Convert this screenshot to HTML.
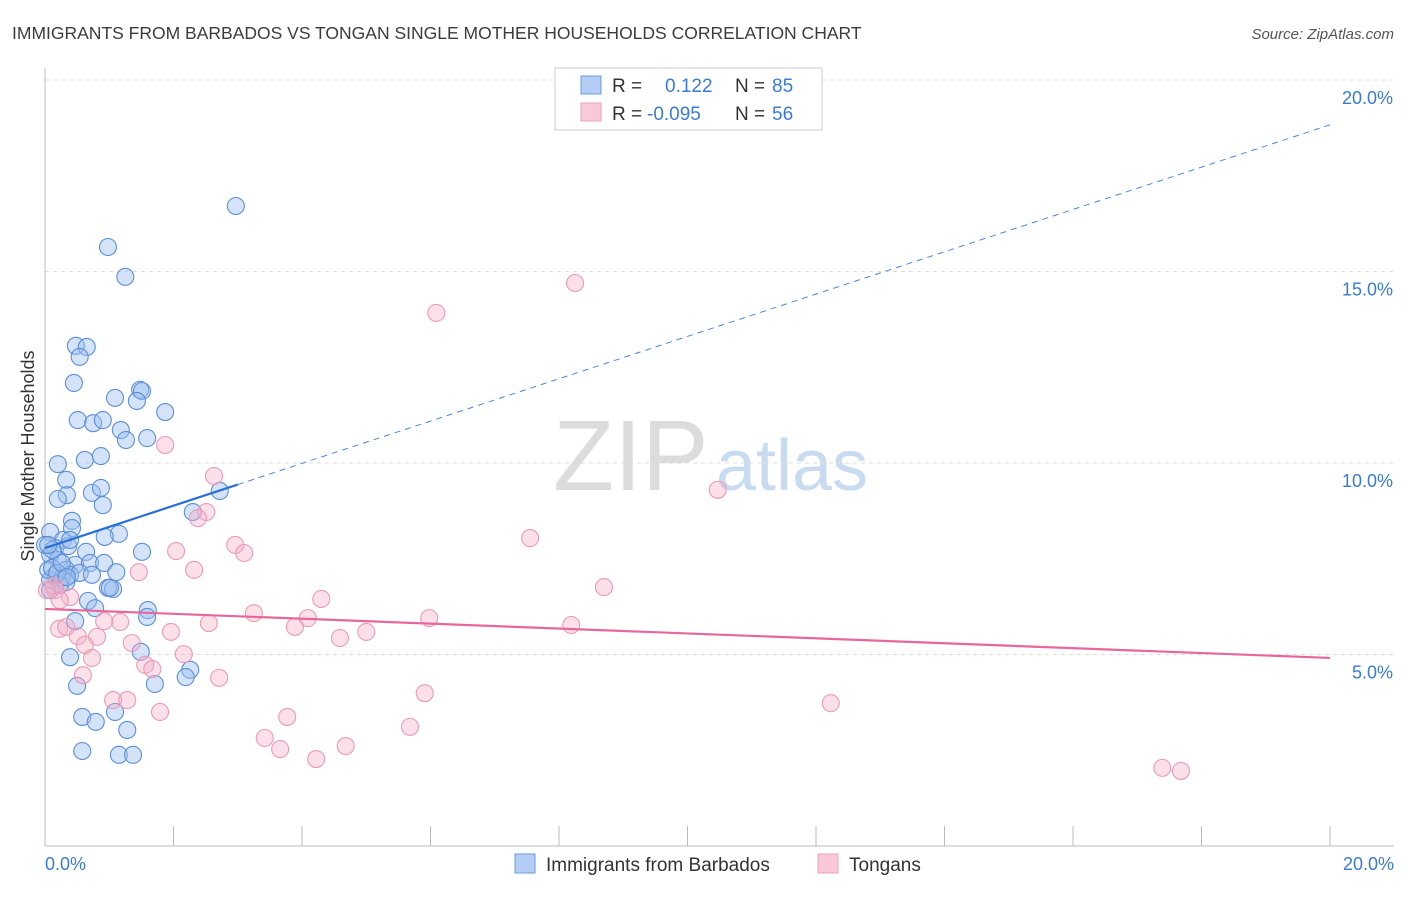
<!DOCTYPE html>
<html><head><meta charset="utf-8"><style>
body{margin:0;background:#fff;font-family:"Liberation Sans",sans-serif}
svg text{font-family:"Liberation Sans",sans-serif}
</style></head><body>
<svg id="chart" width="1406" height="892" xmlns="http://www.w3.org/2000/svg">
<text x="12" y="39" font-size="17.5" fill="#3c3c3c">IMMIGRANTS FROM BARBADOS VS TONGAN SINGLE MOTHER HOUSEHOLDS CORRELATION CHART</text>
<text x="1394" y="39" font-size="15" fill="#555" text-anchor="end" font-style="italic">Source: ZipAtlas.com</text>
<text x="553" y="490" font-size="100" fill="#d4d4d4" font-family="Liberation Serif" opacity="0.8">ZIP</text>
<text x="716" y="490" font-size="72" fill="#bcd3ee" opacity="0.8">atlas</text>
<g id="grid"></g>
<g id="axes"></g>
<g id="pts"></g>
<g id="lines"></g>
<text transform="translate(34,456) rotate(-90)" font-size="18" fill="#333" text-anchor="middle">Single Mother Households</text>
<g>
<rect x="555" y="68" width="267" height="62" fill="#fff" stroke="#ccc"/>
<rect x="581" y="76" width="20" height="18" fill="#b3cdf5" stroke="#6a9be0"/>
<rect x="581" y="103" width="20" height="18" fill="#f9c9d8" stroke="#eea0bb"/>
<text x="612" y="92" font-size="19" fill="#333">R = </text><text x="665" y="92" font-size="19" fill="#3a7bd5">0.122</text>
<text x="735" y="92" font-size="19" fill="#333">N = </text><text x="772" y="92" font-size="19" fill="#3a7bd5">85</text>
<text x="612" y="120" font-size="19" fill="#333">R = </text><text x="647" y="120" font-size="19" fill="#3a7bd5">-0.095</text>
<text x="735" y="120" font-size="19" fill="#333">N = </text><text x="772" y="120" font-size="19" fill="#3a7bd5">56</text>
</g>
<g>
<rect x="515" y="854" width="20" height="19" fill="#b3cdf5" stroke="#6a9be0"/>
<text x="546" y="871" font-size="19" fill="#333">Immigrants from Barbados</text>
<rect x="818" y="854" width="20" height="19" fill="#f9c9d8" stroke="#eea0bb"/>
<text x="849" y="871" font-size="19" fill="#333">Tongans</text>
</g>
</svg>
<script>
const blueX=[2.97,0.98,1.25,0.48,0.65,0.54,0.45,1.48,1.51,1.09,1.43,1.87,0.51,0.75,0.90,1.18,1.26,1.59,0.62,0.87,0.20,0.33,0.34,0.73,0.87,0.20,0.90,2.30,2.72,0.42,0.08,0.42,0.28,1.15,0.93,0.16,0.36,0.64,1.51,0.08,0.20,0.47,0.33,0.70,0.92,1.11,0.16,0.39,0.54,0.08,0.26,0.33,0.98,1.06,0.08,0.67,1.60,0.78,1.59,0.47,0.39,1.49,2.26,2.19,1.71,0.50,0.58,0.79,1.09,1.28,0.58,1.15,1.37,0.05,0.00,0.11,0.23,0.19,0.26,0.12,0.05,0.39,0.73,1.01,0.34];
const blueY=[16.71,15.64,14.86,13.06,13.03,12.77,12.09,11.91,11.88,11.70,11.62,11.33,11.12,11.04,11.12,10.86,10.60,10.65,10.08,10.18,9.97,9.56,9.16,9.22,9.35,9.06,8.90,8.72,9.27,8.49,8.20,8.30,7.99,8.15,8.07,7.78,7.83,7.68,7.68,7.60,7.47,7.34,7.21,7.39,7.39,7.15,7.08,7.08,7.13,6.95,7.00,6.89,6.74,6.71,6.68,6.40,6.16,6.21,5.98,5.87,4.93,5.07,4.60,4.41,4.23,4.18,3.37,3.24,3.50,3.03,2.48,2.38,2.38,7.21,7.86,7.26,6.81,7.13,7.39,7.73,7.86,7.99,7.08,6.74,7.02];
const pinkX=[8.25,6.09,1.87,2.63,10.47,7.55,2.96,3.10,2.51,2.38,2.04,2.32,1.46,8.70,0.16,0.39,3.25,4.30,5.98,8.19,4.09,3.89,2.55,1.17,0.92,1.96,4.59,5.00,0.22,0.33,0.51,0.81,1.35,0.73,2.16,1.56,1.67,0.59,2.71,5.91,1.06,1.28,1.79,3.77,12.23,5.68,3.42,3.66,4.68,4.22,17.39,17.68,0.14,0.03,0.62,0.23];
const pinkY=[14.70,13.92,10.47,9.66,9.30,8.04,7.86,7.65,8.72,8.56,7.70,7.21,7.15,6.76,6.68,6.50,6.08,6.45,5.95,5.77,5.95,5.72,5.82,5.85,5.87,5.59,5.43,5.59,5.67,5.72,5.48,5.46,5.30,4.91,5.01,4.73,4.62,4.46,4.39,3.99,3.81,3.81,3.50,3.37,3.73,3.11,2.82,2.53,2.61,2.27,2.04,1.96,6.79,6.68,5.25,6.42];
const yTicks=[5,10,15,20];
const xTicks=[0,2,4,6,8,10,12,14,16,18,20];
const blueFit=[7.78,18.83]; // at x=0 and x=20
const pinkFit=[6.19,4.91];
const blueSolidEnd=3.0;

const NS="http://www.w3.org/2000/svg";
const sx=v=>45+v/20*1285;
const sy=v=>846-v/5*191.5;
function mk(tag,attrs,parent){const e=document.createElementNS(NS,tag);for(const k in attrs)e.setAttribute(k,attrs[k]);parent.appendChild(e);return e;}
const grid=document.getElementById('grid'),axes=document.getElementById('axes'),pts=document.getElementById('pts'),lines=document.getElementById('lines');
yTicks.forEach(t=>{
  const l=mk('line',{x1:45,x2:1394,y1:sy(t),y2:sy(t),stroke:'#ddd','stroke-dasharray':'4,4'},grid);
  
  
  const tx=mk('text',{x:1393,y:sy(t)+24,'font-size':18,fill:'#3a7bd5','text-anchor':'end'},axes);
  tx.textContent=t.toFixed(1)+'%';
  
  
});
const ax=mk('line',{x1:45,x2:45,y1:68,y2:846,stroke:'#bbb'},axes);


const bx=mk('line',{x1:45,x2:1394,y1:846,y2:846,stroke:'#bbb'},axes);


xTicks.forEach(t=>{
  const l=mk('line',{x1:sx(t),x2:sx(t),y1:826,y2:846,stroke:'#bbb'},axes);
  
  
});
[[0,'start',45],[20,'end',1394]].forEach(([v,a,x])=>{
  const tx=mk('text',{x:x,y:870,'font-size':18,fill:'#3a7bd5','text-anchor':a},axes);
  tx.textContent=v.toFixed(1)+'%';
  
  
});
blueX.forEach((x,i)=>{
  const c=mk('circle',{cx:sx(x),cy:sy(blueY[i]),r:8.5,fill:'rgba(160,192,240,0.45)',stroke:'#5b8fd8','stroke-width':1.1},pts);
  
  
});
pinkX.forEach((x,i)=>{
  const c=mk('circle',{cx:sx(x),cy:sy(pinkY[i]),r:8.5,fill:'rgba(246,176,200,0.4)',stroke:'#eb9ab7','stroke-width':1.1},pts);
  
  
});
const bf=x=>blueFit[0]+(blueFit[1]-blueFit[0])*x/20;
const pf=x=>pinkFit[0]+(pinkFit[1]-pinkFit[0])*x/20;
const b1=mk('line',{x1:sx(0),y1:sy(bf(0)),x2:sx(blueSolidEnd),y2:sy(bf(blueSolidEnd)),stroke:'#2a6fd6','stroke-width':2.2},lines);


const b2=mk('line',{x1:sx(blueSolidEnd),y1:sy(bf(blueSolidEnd)),x2:sx(20),y2:sy(bf(20)),stroke:'#4a86dc','stroke-width':1,'stroke-dasharray':'6,5'},lines);


const p1=mk('line',{x1:sx(0),y1:sy(pf(0)),x2:sx(20),y2:sy(pf(20)),stroke:'#e8679a','stroke-width':2.2},lines);


</script>
</body></html>
